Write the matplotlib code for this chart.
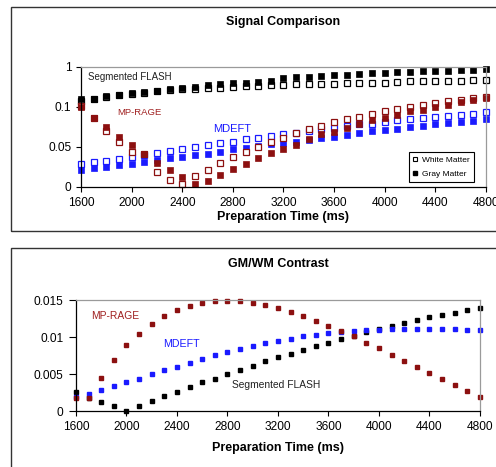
import numpy as np
import matplotlib
matplotlib.use("Agg")
import matplotlib.pyplot as plt
from matplotlib.patches import Rectangle
from matplotlib.lines import Line2D

plt.rcParams["font.family"] = ["Liberation Sans", "DejaVu Sans"]

# preparation times (ms)
prep_time = np.arange(1600, 4801, 100)

# Signal Comparison - gray matter (filled) / white matter (open)
flash_gm = [0.27, 0.29, 0.35, 0.38, 0.41, 0.44, 0.47, 0.50, 0.52, 0.54, 0.60, 0.61, 0.63,
            0.65, 0.66, 0.68, 0.75, 0.78, 0.78, 0.80, 0.81, 0.82, 0.84, 0.86, 0.87, 0.88,
            0.88, 0.90, 0.91, 0.92, 0.93, 0.93, 0.96]
flash_wm = [0.24, 0.28, 0.33, 0.36, 0.39, 0.42, 0.45, 0.475, 0.50, 0.51, 0.52, 0.535, 0.56,
            0.57, 0.57, 0.59, 0.60, 0.62, 0.62, 0.625, 0.625, 0.63, 0.63, 0.64, 0.65, 0.66,
            0.68, 0.685, 0.685, 0.685, 0.69, 0.70, 0.70]
mprage_gm = [0.1, 0.0863, 0.0746, 0.0629, 0.0521, 0.0417, 0.0304, 0.0213, 0.0125, 0.0038,
             0.0071, 0.015, 0.0221, 0.0292, 0.0363, 0.0421, 0.0479, 0.0525, 0.0596, 0.0658,
             0.0692, 0.0733, 0.0788, 0.0833, 0.0858, 0.09, 0.095, 0.0967, 0.1, 0.145, 0.22,
             0.265, 0.31]
mprage_wm = [0.12, 0.0863, 0.0704, 0.0558, 0.0433, 0.0408, 0.0192, 0.0092, 0.0033, 0.0138,
             0.0213, 0.0296, 0.0375, 0.0438, 0.0496, 0.0558, 0.0613, 0.0671, 0.0721, 0.0767,
             0.0808, 0.085, 0.0875, 0.0917, 0.095, 0.0975, 0.1, 0.1375, 0.19, 0.235, 0.265,
             0.31, 0.3325]
mdeft_gm = [0.0213, 0.0233, 0.025, 0.0271, 0.0292, 0.0308, 0.0338, 0.0358, 0.0379, 0.04,
            0.0417, 0.0438, 0.0471, 0.0492, 0.0508, 0.0533, 0.0546, 0.0567, 0.0592, 0.0617,
            0.0629, 0.065, 0.0671, 0.07, 0.0713, 0.0729, 0.075, 0.0767, 0.0783, 0.0796,
            0.0817, 0.0829, 0.085]
mdeft_wm = [0.0283, 0.0308, 0.0329, 0.0354, 0.0379, 0.04, 0.0429, 0.0446, 0.0479, 0.05,
            0.0525, 0.0546, 0.0567, 0.0596, 0.0617, 0.0633, 0.0663, 0.0675, 0.07, 0.0725,
            0.0742, 0.0767, 0.0783, 0.0792, 0.0817, 0.0842, 0.085, 0.0867, 0.0875, 0.0892,
            0.09, 0.0917, 0.0933]

# GM/WM Contrast
mprage_con = [0.0017, 0.0017, 0.0045, 0.00685, 0.00887, 0.01045, 0.01176, 0.01284, 0.0137,
              0.01423, 0.01464, 0.01486, 0.01486, 0.01486, 0.01464, 0.01437, 0.01392,
              0.01338, 0.01284, 0.01221, 0.01144, 0.01077, 0.01009, 0.00919, 0.00847,
              0.00761, 0.00676, 0.00599, 0.00518, 0.00428, 0.00347, 0.0027, 0.00185]
mdeft_con = [0.00185, 0.00225, 0.00279, 0.00338, 0.00392, 0.00437, 0.00495, 0.0055, 0.00599,
             0.00653, 0.00707, 0.00752, 0.00793, 0.00833, 0.00878, 0.00914, 0.00946, 0.00977,
             0.01014, 0.01032, 0.01054, 0.01072, 0.01077, 0.0109, 0.01099, 0.01108, 0.01108,
             0.01108, 0.01108, 0.01108, 0.01104, 0.01099, 0.0109]
flash_con = [0.00252, 0.0017, 0.00126, 0.00063, 0.00005, 0.00072, 0.0014, 0.00203, 0.00257,
             0.0032, 0.00387, 0.00437, 0.005, 0.00554, 0.00608, 0.00671, 0.0073, 0.0077,
             0.0082, 0.00878, 0.00919, 0.00973, 0.0101, 0.01063, 0.01104, 0.01149, 0.01194,
             0.01225, 0.01266, 0.01297, 0.01329, 0.0136, 0.01392]

top_yticks = [0, 0.05, 0.1, 1]
top_ylabels = ["0", "0.05", "0.1", "1"]
bot_yticks = [0, 0.005, 0.01, 0.015]
bot_ylabels = ["0", "0.005", "0.01", "0.015"]
xticks = np.arange(1600, 4801, 400)

RED = "#8c1010"
BLUE = "#1a1aff"
BLACK = "#000000"

fig = plt.figure(figsize=(4.96, 4.67), dpi=100)

# outer chart boxes
for y0, h in [(0.5054, 0.4796), (-0.05, 0.519)]:
    fig.patches.append(Rectangle((0.0222, y0), 1.1, h, transform=fig.transFigure,
                                 fill=False, edgecolor="#333333", lw=1.0))


def style_axes(ax):
    ax.spines["left"].set_color("black")
    ax.spines["bottom"].set_color("black")
    ax.spines["top"].set_color("#9a9a9a")
    ax.spines["right"].set_color("#9a9a9a")
    for s in ax.spines.values():
        s.set_linewidth(0.9)
    ax.tick_params(axis="both", direction="out", length=3.5, width=0.8,
                   labelsize=8.6, top=False, right=False)
    ax.set_xlim(1600, 4800)
    ax.set_xticks(xticks)
    ax.set_xticklabels([str(t) for t in xticks])


# ---- top: Signal Comparison
ax1 = fig.add_axes([0.1633, 0.5996, 0.8165, 0.257])
fwd = lambda v: np.interp(v, [0, 0.05, 0.1, 1], [0, 1, 2, 3])
inv = lambda p: np.interp(p, [0, 1, 2, 3], [0, 0.05, 0.1, 1])
ax1.set_yscale("function", functions=(fwd, inv))
ms = 3.7
for gm, wm, c in [(flash_gm, flash_wm, BLACK), (mdeft_gm, mdeft_wm, BLUE),
                  (mprage_gm, mprage_wm, RED)]:
    ax1.plot(prep_time, wm, ls="none", marker="s", ms=ms, mfc="white", mec=c, mew=0.9,
             clip_on=False)
    ax1.plot(prep_time, gm, ls="none", marker="s", ms=ms, mfc=c, mec=c, mew=0.5,
             clip_on=False)
ax1.set_ylim(0, 1)
ax1.set_yticks(top_yticks)
ax1.set_yticklabels(top_ylabels)
ax1.yaxis.set_minor_locator(plt.NullLocator())
style_axes(ax1)
ax1.set_title("Signal Comparison", fontsize=9, fontweight="bold", pad=30)
ax1.set_xlabel("Preparation Time (ms)", fontsize=9, fontweight="bold", labelpad=1.5)
ax1.text(0.017, 0.917, "Segmented FLASH", transform=ax1.transAxes, fontsize=7,
         color="#222222", va="center")
ax1.text(0.089, 0.617, "MP-RAGE", transform=ax1.transAxes, fontsize=6.8,
         color="#a02020", va="center")
ax1.text(0.326, 0.483, "MDEFT", transform=ax1.transAxes, fontsize=8,
         color=BLUE, va="center")
handles = [Line2D([], [], ls="none", marker="s", ms=3.3, mfc="white", mec="black", mew=0.8),
           Line2D([], [], ls="none", marker="s", ms=3.3, mfc="black", mec="black")]
leg = ax1.legend(handles, ["White Matter", "Gray Matter"], loc="lower right",
                 bbox_to_anchor=(0.97, 0.04), borderaxespad=0, fontsize=6,
                 fancybox=False, framealpha=1, edgecolor="black", handlelength=0.6,
                 handletextpad=0.5, borderpad=0.5, labelspacing=0.8)
leg.get_frame().set_linewidth(0.8)

# ---- bottom: GM/WM Contrast
ax2 = fig.add_axes([0.1532, 0.1199, 0.8145, 0.2377])
ms2 = 3.4
ax2.plot(prep_time, flash_con, ls="none", marker="s", ms=ms2, color=BLACK, clip_on=False)
ax2.plot(prep_time, mdeft_con, ls="none", marker="s", ms=ms2, color=BLUE, clip_on=False)
ax2.plot(prep_time, mprage_con, ls="none", marker="s", ms=ms2, color=RED, clip_on=False)
ax2.set_ylim(0, 0.015)
ax2.set_yticks(bot_yticks)
ax2.set_yticklabels(bot_ylabels)
style_axes(ax2)
ax2.tick_params(axis="y", length=5, pad=4)
ax2.set_title("GM/WM Contrast", fontsize=9, fontweight="bold", pad=24)
ax2.set_xlabel("Preparation Time (ms)", fontsize=9, fontweight="bold", labelpad=7)
ax2.text(0.037, 0.856, "MP-RAGE", transform=ax2.transAxes, fontsize=7.4,
         color="#a02020", va="center")
ax2.text(0.215, 0.604, "MDEFT", transform=ax2.transAxes, fontsize=7.7,
         color=BLUE, va="center")
ax2.text(0.386, 0.234, "Segmented FLASH", transform=ax2.transAxes, fontsize=7.4,
         color="#222222", va="center")

fig.savefig("out.png", dpi=100)
